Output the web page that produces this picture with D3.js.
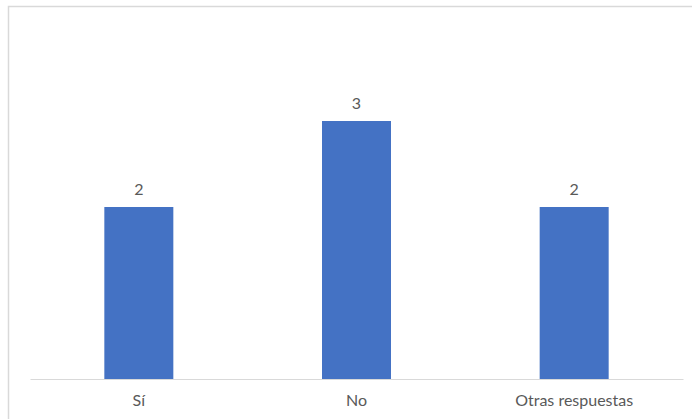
<!DOCTYPE html>
<html>
<head>
<meta charset="utf-8">
<script src="https://cdn.jsdelivr.net/npm/d3@7"></script>
<style>
  html, body { margin: 0; padding: 0; background: #fff; }
  svg { display: block; }
</style>
</head>
<body>
<svg id="chart" width="692" height="419"></svg>
<script>
// Responses per answer
const categories = ["Sí", "No", "Otras respuestas"];
const values = [2, 3, 2];

const svg = d3.select("#chart");
const W = 692, H = 419;
const font = "Lato, 'Open Sans', sans-serif";
const textColor = "#595959";

// Chart frame (light border, runs off the right and bottom edges)
svg.append("rect")
  .attr("x", 8.5).attr("y", 6.5)
  .attr("width", W + 20).attr("height", H + 20)
  .attr("fill", "none")
  .attr("stroke", "#d9d9d9")
  .attr("stroke-width", 1.5);

const plot = { left: 30, right: 683, top: 78, bottom: 379 };

const x = d3.scaleBand()
  .domain(categories)
  .range([plot.left, plot.right])
  .paddingInner(0.683)
  .paddingOuter(0.3415);

const y = d3.scaleLinear()
  .domain([0, 3.5])
  .range([plot.bottom, plot.top]);

const data = categories.map((c, i) => ({ cat: c, val: values[i] }));

// Bars
svg.append("g").selectAll("rect")
  .data(data)
  .join("rect")
  .attr("x", d => x(d.cat))
  .attr("y", d => y(d.val))
  .attr("width", x.bandwidth())
  .attr("height", d => y(0) - y(d.val))
  .attr("fill", "#4472c4");

// Value labels
svg.append("g").selectAll("text")
  .data(data)
  .join("text")
  .attr("x", d => x(d.cat) + x.bandwidth() / 2)
  .attr("y", d => y(d.val) - 12)
  .attr("text-anchor", "middle")
  .attr("font-family", font)
  .attr("font-size", 16)
  .attr("fill", textColor)
  .text(d => d.val);

// Category axis
const xAxis = svg.append("g")
  .attr("transform", `translate(0,${plot.bottom})`)
  .call(d3.axisBottom(x).tickSize(0).tickPadding(16));
xAxis.select(".domain")
  .attr("stroke", "#d9d9d9")
  .attr("stroke-width", 1);
xAxis.selectAll("text")
  .attr("font-family", font)
  .attr("font-size", 16)
  .attr("fill", textColor);
</script>
</body>
</html>
